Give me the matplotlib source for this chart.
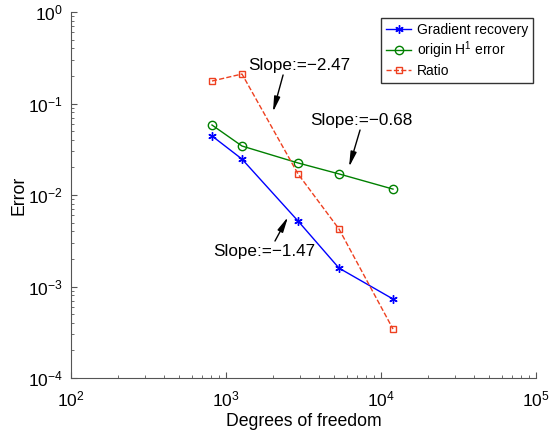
import matplotlib
matplotlib.use("Agg")
import matplotlib.pyplot as plt
from matplotlib.ticker import LogLocator, NullFormatter

plt.rcParams['font.family'] = ['Liberation Sans', 'DejaVu Sans']
plt.rcParams['mathtext.fontset'] = 'custom'
plt.rcParams['mathtext.rm'] = 'Liberation Sans'
plt.rcParams['mathtext.it'] = 'Liberation Sans'

dof = [812, 1268, 2915, 5357, 11950]
grad_recovery = [0.0442, 0.0247, 0.0052, 0.00159, 0.00073]
origin_h1 = [0.0582, 0.0343, 0.0224, 0.0170, 0.0116]
ratio = [0.176, 0.210, 0.0170, 0.00425, 0.000343]

labels = ['Gradient recovery', 'origin H$^1$ error', 'Ratio']
slope_texts = ['Slope:=\u22122.47', 'Slope:=\u22120.68', 'Slope:=\u22121.47']
# (text position, arrow tail, arrow tip) in data coordinates
slope_text_pos = [(1387, 0.257), (3483, 0.0644), (824, 0.00244)]
arrow_tails = [(2335, 0.205), (7325, 0.0513), (2070, 0.00314)]
arrow_tips = [(2009, 0.0807), (6220, 0.0202), (2512, 0.00575)]

fig = plt.figure(figsize=(5.52, 4.34), dpi=100)
ax = fig.add_axes([71/552, 1-378/434, (536-71)/552, (378-12)/434])

ax.loglog(dof, grad_recovery, '-', color='#0000ff', marker=(6, 2, 0), markersize=6,
          lw=1, label=labels[0])
ax.loglog(dof, origin_h1, '-', color='#008000', marker='o', markersize=6,
          markerfacecolor='none', lw=1, label=labels[1])
ax.loglog(dof, ratio, '--', color='#ee4020', marker='s', markersize=5,
          markerfacecolor='none', lw=1, label=labels[2])

ax.set_xlim(1e2, 1e5)
ax.set_ylim(1e-4, 1e0)
ax.spines['top'].set_visible(False)
ax.spines['right'].set_visible(False)
for s in ['left', 'bottom']:
    ax.spines[s].set_color('#555555')
ax.tick_params(which='both', direction='in', colors='#555555', labelcolor='black',
               labelsize=12.5)
ax.tick_params(axis='x', which='major', pad=8)
ax.tick_params(axis='y', which='major', pad=6)
ax.tick_params(which='major', length=4)
ax.tick_params(which='minor', length=2)
ax.xaxis.set_major_locator(LogLocator(base=10, numticks=10))
ax.yaxis.set_major_locator(LogLocator(base=10, numticks=10))
ax.xaxis.set_minor_locator(LogLocator(base=10, subs=range(2, 10), numticks=20))
ax.yaxis.set_minor_locator(LogLocator(base=10, subs=range(2, 10), numticks=20))
ax.xaxis.set_minor_formatter(NullFormatter())
ax.yaxis.set_minor_formatter(NullFormatter())

ax.set_xlabel('Degrees of freedom', fontsize=12.7, labelpad=3)
ax.set_ylabel('Error', fontsize=12.7, labelpad=0)

for t, pos, tail, tip in zip(slope_texts, slope_text_pos, arrow_tails, arrow_tips):
    ax.text(pos[0], pos[1], t, fontsize=12.3, ha='left', va='center')
    ax.annotate('', xy=tip, xytext=tail,
                arrowprops=dict(arrowstyle='-|>,head_length=0.75,head_width=0.15',
                                color='black', lw=1,
                                mutation_scale=12, shrinkA=0, shrinkB=0))

leg = ax.legend(loc='upper right', fontsize=10, frameon=True, fancybox=False,
                edgecolor='black', borderpad=0.35, labelspacing=0.2,
                handlelength=1.8, handletextpad=0.4, borderaxespad=0,
                bbox_to_anchor=(0.9935, 0.9836))
leg.get_frame().set_linewidth(1)

fig.savefig('out.png', dpi=100)
